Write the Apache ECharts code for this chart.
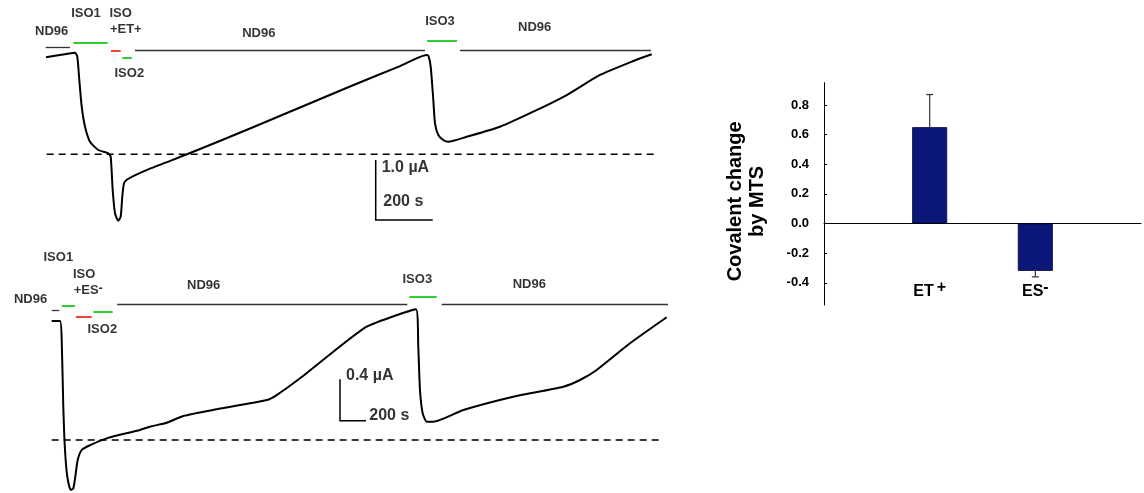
<!DOCTYPE html>
<html><head><meta charset="utf-8">
<script src="https://cdn.jsdelivr.net/npm/echarts@6/dist/echarts.min.js"></script>
<style>html,body{margin:0;padding:0;background:#fff}#c{width:1144px;height:493px}</style>
</head><body><div id="c"></div>
<script>
// ---------- DATA ----------
// Upper trace (ISO + ET+): [time s, current µA relative to dashed baseline]
const traceET = [
  [3.5,1.617],[52.6,1.655],[105.3,1.693],[113.3,1.627],[120.4,1.238],[128.8,0.793],[140.4,0.46],
  [157.9,0.21],[187,0.072],[222.1,0.017],[230.5,-0.04],[237.5,-0.595],[245.6,-0.983],[257.2,-1.107],
  [265.6,-1.04],[271.2,-0.707],[277.2,-0.483],[288.8,-0.417],[368.4,-0.24],[498.2,0],[719.3,0.43],
  [894.7,0.78],[1070.2,1.13],[1245.6,1.47],[1339.3,1.655],[1345.6,1.638],[1353.3,1.46],[1362.5,0.905],
  [1368.4,0.517],[1380,0.322],[1397.5,0.238],[1415,0.21],[1479.6,0.293],[1596.5,0.46],[1713.3,0.71],
  [1830.5,0.988],[1947.4,1.322],[2064.2,1.555],[2128.8,1.667]
];
// Lower trace (ISO + ES-)
const traceES = [
  [13,1.152],[76.9,1.152],[90,0.968],[102.3,0.322],[115.4,-0.097],[133.1,-0.355],[159.2,-0.484],
  [179.2,-0.468],[194.6,-0.355],[213.1,-0.194],[243.8,-0.097],[294.6,-0.058],[436.2,0.016],[692.3,0.097],
  [769.2,0.129],[897.7,0.167],[1025.4,0.232],[1282.3,0.297],[1666.9,0.387],[1743.8,0.435],[1923,0.597],
  [2179.2,0.855],[2436.2,1.097],[2692.3,1.22],[2815.4,1.265],[2833,0.903],[2846,0.484],[2866.9,0.258],
  [2897.7,0.177],[2948.5,0.177],[3179.2,0.29],[3563.8,0.419],[3948.5,0.516],[4076.9,0.581],
  [4205.4,0.678],[4461.5,0.936],[4743.8,1.188]
];
// Solution application bars: [kind, start s, end s, level µA]
const stimET = [
  ['nd',2.5,87.7,1.777],['iso',99.3,220,1.867],['mts',231.6,265.6,1.722],['iso',271.2,304.2,1.61],
  ['nd',315.8,1333.3,1.738],['iso',1340.4,1445.6,1.888],['nd',1456,2126,1.738]
];
const stimES = [
  ['nd',13,71.5,1.252],['iso',90,192,1.3],['mts',200,320.8,1.194],['iso',333,482,1.242],
  ['nd',517,2748.5,1.317],['iso',2763.8,2974.6,1.387],['nd',3013,4753.8,1.317]
];
// Annotation labels: [text, time s, current µA]
const labelsET = [
  ['ND96',23.5,2.043],['ISO1',143.9,2.35],['ISO',265.6,2.35],['+ET+',283.5,2.088],['ISO2',295.8,1.35],
  ['ND96',750.2,2.017],['ISO3',1386,2.21],['ND96',1718.2,2.117]
];
const labelsES = [
  ['ISO1',63.8,1.769],['ISO',262.8,1.607],['{t|+ES}{m|-}',294.6,1.445],['ND96',-150,1.362],
  ['ISO2',402.3,1.072],['ND96',1182.3,1.5],['ISO3',2825.4,1.559],['ND96',3687,1.51]
];
// Baselines (dashed): [start s, end s]
const baseET = [5.9, 2140];
const baseES = [13, 4715];
// Scale bars: [corner time s, corner current µA, current span µA, time span s]
const scaleET = [1160.4, -1.095, 1.0, 200];
const scaleES = [2230.8, 0.187, 0.4, 200];
const scaleLabelsET = [['1.0 µA',1181.4,-0.223],['200 s',1187,-0.79]];
const scaleLabelsES = [['0.4 µA',2276.9,0.62],['200 s',2456,0.235]];
// Bar chart
const barCategories = ['ET+', 'ES-'];
const barValues = [0.65, -0.32];
const barErrors = [0.22, 0.04];
const barTicks = [-0.4, -0.2, 0.0, 0.2, 0.4, 0.6, 0.8];

// ---------- STYLE / BUILD ----------
const FONT = '"Liberation Sans", Arial, Helvetica, sans-serif';
const stimColor = {nd: '#333333', iso: '#33cc33', mts: '#ee4433'};
const stimWidth = {nd: 1.3, iso: 2, mts: 2};

function stimSeries(list, idx) {
  return {
    type: 'lines', coordinateSystem: 'cartesian2d', xAxisIndex: idx, yAxisIndex: idx,
    polyline: false, silent: true, clip: false,
    lineStyle: {opacity: 1},
    data: list.map(s => ({coords: [[s[1], s[3]], [s[2], s[3]]],
      lineStyle: {color: stimColor[s[0]], width: stimWidth[s[0]], opacity: 1}}))
  };
}
function labelSeries(list, idx, size, left) {
  return {
    type: 'scatter', xAxisIndex: idx, yAxisIndex: idx, symbolSize: 0, silent: true, clip: false,
    data: list.map(l => ({name: l[0], value: [l[1], l[2]]})),
    label: {
      show: true, position: left ? 'right' : 'inside', distance: 0, formatter: '{b}',
      color: '#000', fontFamily: FONT, fontWeight: 'bold', fontSize: size,
      rich: {
        t: {fontFamily: FONT, fontWeight: 'bold', fontSize: size, color: '#000', lineHeight: 18, verticalAlign: 'middle'},
        m: {fontFamily: FONT, fontWeight: 'bold', fontSize: size, color: '#000', lineHeight: 12, verticalAlign: 'top'}
      }
    }
  };
}
function traceSeries(data, idx) {
  return {type: 'line', xAxisIndex: idx, yAxisIndex: idx, data: data, showSymbol: false, symbol: 'none',
    smooth: 0.2, silent: true, clip: false, lineStyle: {color: '#000', width: 2}};
}
function baseSeries(b, idx) {
  return {type: 'line', xAxisIndex: idx, yAxisIndex: idx, data: [[b[0], 0], [b[1], 0]], showSymbol: false,
    symbol: 'none', silent: true, clip: false, lineStyle: {color: '#000', width: 1.5, type: [7, 5]}};
}
function scaleSeries(s, idx) {
  return {
    type: 'lines', coordinateSystem: 'cartesian2d', xAxisIndex: idx, yAxisIndex: idx, polyline: true,
    silent: true, clip: false,
    data: [{coords: [[s[0], s[1] + s[2]], [s[0], s[1]], [s[0] + s[3], s[1]]]}],
    lineStyle: {color: '#000', width: 1.5, opacity: 1}
  };
}

const hidden = {show: false};
const option = {
  animation: false,
  backgroundColor: '#fff',
  grid: [
    {left: 16.5, top: 4.3, width: 655.5, height: 240},
    {left: 24, top: 254.06, width: 650, height: 237.59},
    {left: 824, top: 82.7, width: 319, height: 222.3}
  ],
  xAxis: [
    {type: 'value', gridIndex: 0, min: -100, max: 2200, ...hidden},
    {type: 'value', gridIndex: 1, min: -200, max: 4800, ...hidden},
    {type: 'category', gridIndex: 2, data: ['', ...barCategories, ''], boundaryGap: false,
      axisLine: {onZero: true, lineStyle: {color: '#000', width: 1}},
      axisTick: {show: false},
      axisLabel: {
        margin: -25, interval: 0,
        formatter: v => !v ? '' : (v.slice(2) === '+' ? '{t|' + v.slice(0, 2) + '}{p|+}' : '{t|' + v.slice(0, 2) + '}{m|-}'),
        rich: {
          t: {fontFamily: FONT, fontWeight: 'bold', fontSize: 16, color: '#000', lineHeight: 24, verticalAlign: 'middle'},
          p: {fontFamily: FONT, fontWeight: 'bold', fontSize: 16, color: '#000', lineHeight: 14, verticalAlign: 'top', padding: [0, 0, 0, 3]},
          m: {fontFamily: FONT, fontWeight: 'bold', fontSize: 16, color: '#000', lineHeight: 14, verticalAlign: 'top'}
        }
      }
    }
  ],
  yAxis: [
    {type: 'value', gridIndex: 0, min: -1.5, max: 2.5, ...hidden},
    {type: 'value', gridIndex: 1, min: -0.5, max: 1.8, ...hidden},
    {type: 'value', gridIndex: 2, min: -0.55, max: 0.95,
      name: 'Covalent change\nby MTS', nameLocation: 'middle', nameGap: 56, nameRotate: 90,
      nameTextStyle: {fontFamily: FONT, fontWeight: 'bold', fontSize: 20, color: '#000', lineHeight: 22, padding: [0, 15, 0, 0]},
      axisLine: {show: true, lineStyle: {color: '#000', width: 1}},
      axisTick: {show: true, inside: true, length: 3, customValues: barTicks, lineStyle: {color: '#000'}},
      axisLabel: {customValues: barTicks, margin: 15, fontFamily: FONT, fontWeight: 'bold', fontSize: 13, color: '#000',
        formatter: v => v.toFixed(1)},
      splitLine: {show: false}
    }
  ],
  series: [
    traceSeries(traceET, 0), baseSeries(baseET, 0), stimSeries(stimET, 0), scaleSeries(scaleET, 0),
    labelSeries(labelsET, 0, 13, false), labelSeries(scaleLabelsET, 0, 16, true),
    traceSeries(traceES, 1), baseSeries(baseES, 1), stimSeries(stimES, 1), scaleSeries(scaleES, 1),
    labelSeries(labelsES, 1, 13, false), labelSeries(scaleLabelsES, 1, 16, true),
    {type: 'bar', xAxisIndex: 2, yAxisIndex: 2, barWidth: 35, silent: true,
      data: ['-', ...barValues, '-'],
      itemStyle: {color: '#0a1778', borderColor: '#05093a', borderWidth: 0.8}},
    {type: 'custom', xAxisIndex: 2, yAxisIndex: 2, silent: true,
      data: barValues.map((v, i) => [i + 1, v, barErrors[i]]),
      renderItem: (params, api) => {
        const x = api.value(0), v = api.value(1), e = api.value(2);
        const end = v >= 0 ? v + e : v - e;
        const p0 = api.coord([x, v]), p1 = api.coord([x, end]);
        const style = {stroke: '#333', lineWidth: 1.2};
        return {type: 'group', children: [
          {type: 'line', shape: {x1: p0[0], y1: p0[1], x2: p1[0], y2: p1[1]}, style},
          {type: 'line', shape: {x1: p1[0] - 3.5, y1: p1[1], x2: p1[0] + 3.5, y2: p1[1]}, style}
        ]};
      }
    }
  ]
};
const chart = echarts.init(document.getElementById('c'), null, {renderer: 'canvas'});
chart.setOption(option);
</script></body></html>
